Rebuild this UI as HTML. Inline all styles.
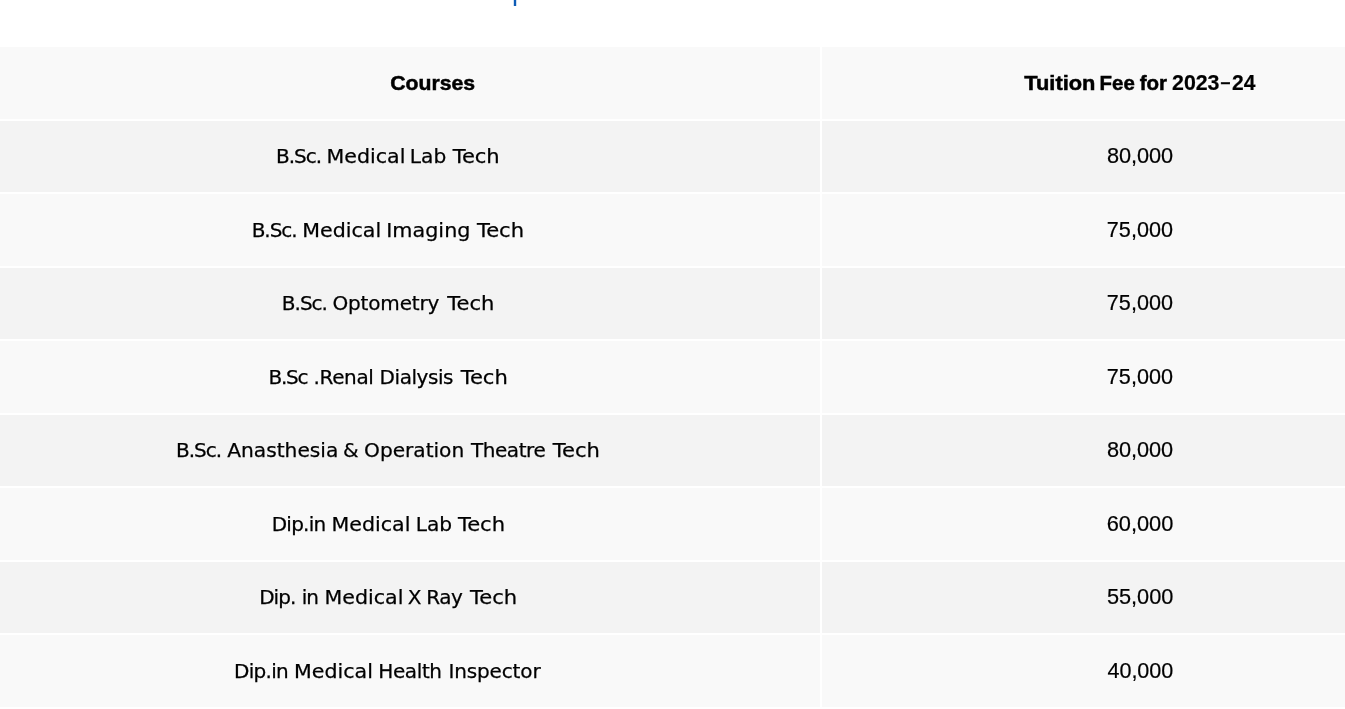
<!DOCTYPE html>
<html lang="en"><head><meta charset="utf-8"><title>Tuition Fee for 2023-24</title>
<style>
html,body{margin:0;padding:0;background:#fff;}
body{width:1345px;height:709px;overflow:hidden;position:relative;font-family:"Liberation Sans",sans-serif;color:#000;}
.tbl{position:absolute;left:0;top:0;width:1345px;height:709px;}
.row{position:absolute;left:0;width:1345px;}
.cell{position:absolute;top:0;height:100%;}
.c1{left:0;width:820px;}
.c2{left:822px;width:523px;}
.odd .cell{background:#f9f9f9;}
.even .cell{background:#f3f3f3;}
.cell span{position:absolute;display:block;white-space:nowrap;line-height:1;font-size:21px;transform-origin:0 0;}
.h span{font-weight:bold;-webkit-text-stroke:0.5px #000;}
.c1 span{font-family:"DejaVu Sans","Liberation Sans",sans-serif;font-size:20px;-webkit-text-stroke:0.25px #000;}
.h .c1 span{font-family:"Liberation Sans",sans-serif;font-size:21px;-webkit-text-stroke:0.5px #000;}
.cell span.n{font-size:21.5px;-webkit-text-stroke:0.2px #000;}
.h span.n{-webkit-text-stroke:0.2px #000;}
.h span.hy{font-weight:normal;-webkit-text-stroke:0.5px #000;}
.lnk{position:absolute;left:512px;top:-22px;font-size:27px;line-height:1;color:#0d5cb6;white-space:nowrap;}
</style></head><body>
<div class="lnk">p</div>
<div class="tbl" role="table">
<div class="row odd h" role="row" style="top:47px;height:72px">
<div class="cell c1" role="columnheader"><span style="left:390px;top:25px;letter-spacing:-0.008px;transform:translateX(0.19px) scaleX(1.0099)">Courses</span></div>
<div class="cell c2" role="columnheader"><span style="left:202px;top:25px;letter-spacing:-0.022px;transform:translateX(0.35px) scaleX(1.0398)">Tuition</span> <span style="left:277px;top:25px;letter-spacing:0.022px;transform:translateX(0.59px) scaleX(0.9721)">Fee</span> <span style="left:317px;top:25px;letter-spacing:-0.115px;transform:translateX(0.79px) scaleX(0.9780)">for</span> <span class="n" style="left:350px;top:26px;letter-spacing:-0.066px;transform:translateX(0.09px) scaleX(0.9930)">2023</span> <span class="hy" style="left:397px;top:23.5px;transform:translateX(0.74px) scaleX(1.6200)">-</span> <span class="n" style="left:410px;top:26px;letter-spacing:-0.081px;transform:translateX(0.07px) scaleX(0.9789)">24</span></div>
</div>
<div class="row even" role="row" style="top:121px;height:71px">
<div class="cell c1" role="cell"><span style="left:276.05px;top:25px;letter-spacing:-1.019px">B.Sc.</span> <span style="left:326px;top:25px;letter-spacing:0.007px;transform:translateX(0.50px) scaleX(1.0290)">Medical</span> <span style="left:409px;top:25px;letter-spacing:0.042px;transform:translateX(0.85px) scaleX(1.0075)">Lab</span> <span style="left:452px;top:25px;letter-spacing:-0.059px;transform:translateX(0.67px) scaleX(1.0540)">Tech</span></div>
<div class="cell c2" role="cell"><span class="n" style="left:284px;top:25px;letter-spacing:-0.036px;transform:translateX(0.92px) scaleX(1.0107)">80,000</span></div>
</div>
<div class="row odd" role="row" style="top:194px;height:72px">
<div class="cell c1" role="cell"><span style="left:251.65px;top:26px;letter-spacing:-1.019px">B.Sc.</span> <span style="left:302px;top:26px;letter-spacing:0.007px;transform:translateX(0.25px) scaleX(1.0290)">Medical</span> <span style="left:386px;top:26px;letter-spacing:0.019px;transform:translateX(0.16px) scaleX(1.0355)">Imaging</span> <span style="left:476px;top:26px;letter-spacing:-0.059px;transform:translateX(0.97px) scaleX(1.0540)">Tech</span></div>
<div class="cell c2" role="cell"><span class="n" style="left:284px;top:26px;letter-spacing:0.003px;transform:translateX(0.85px) scaleX(1.0049)">75,000</span></div>
</div>
<div class="row even" role="row" style="top:268px;height:71px">
<div class="cell c1" role="cell"><span style="left:281.85px;top:25px;letter-spacing:-1.019px">B.Sc.</span> <span style="left:332.39px;top:25px;letter-spacing:-0.145px">Optometry</span> <span style="left:447px;top:25px;letter-spacing:-0.059px;transform:translateX(0.27px) scaleX(1.0540)">Tech</span></div>
<div class="cell c2" role="cell"><span class="n" style="left:284px;top:25px;letter-spacing:0.003px;transform:translateX(0.85px) scaleX(1.0049)">75,000</span></div>
</div>
<div class="row odd" role="row" style="top:341px;height:72px">
<div class="cell c1" role="cell"><span style="left:268.43px;top:26px;letter-spacing:-1.261px">B.Sc</span> <span style="left:313.58px;top:26px;letter-spacing:-0.379px">.Renal</span> <span style="left:379.59px;top:26px;letter-spacing:-0.434px">Dialysis</span> <span style="left:460px;top:26px;letter-spacing:-0.059px;transform:translateX(0.72px) scaleX(1.0540)">Tech</span></div>
<div class="cell c2" role="cell"><span class="n" style="left:284px;top:26px;letter-spacing:0.003px;transform:translateX(0.85px) scaleX(1.0049)">75,000</span></div>
</div>
<div class="row even" role="row" style="top:415px;height:71px">
<div class="cell c1" role="cell"><span style="left:176.05px;top:25px;letter-spacing:-1.019px">B.Sc.</span> <span style="left:227px;top:25px;letter-spacing:-0.010px;transform:translateX(0.17px) scaleX(1.0108)">Anasthesia</span> <span style="left:343.08px;top:25px">&amp;</span> <span style="left:364px;top:25px;letter-spacing:-0.023px;transform:translateX(0.07px) scaleX(1.0077)">Operation</span> <span style="left:470.93px;top:25px;letter-spacing:-0.425px">Theatre</span> <span style="left:552px;top:25px;letter-spacing:-0.059px;transform:translateX(0.87px) scaleX(1.0540)">Tech</span></div>
<div class="cell c2" role="cell"><span class="n" style="left:284px;top:25px;letter-spacing:-0.036px;transform:translateX(0.92px) scaleX(1.0107)">80,000</span></div>
</div>
<div class="row odd" role="row" style="top:488px;height:72px">
<div class="cell c1" role="cell"><span style="left:271.64px;top:26px;letter-spacing:-0.721px">Dip.in</span> <span style="left:331px;top:26px;letter-spacing:0.007px;transform:translateX(0.55px) scaleX(1.0290)">Medical</span> <span style="left:415px;top:26px;letter-spacing:0.042px;transform:translateX(0.65px) scaleX(1.0075)">Lab</span> <span style="left:457px;top:26px;letter-spacing:-0.059px;transform:translateX(0.97px) scaleX(1.0540)">Tech</span></div>
<div class="cell c2" role="cell"><span class="n" style="left:284px;top:26px;letter-spacing:-0.048px;transform:translateX(0.79px) scaleX(1.0146)">60,000</span></div>
</div>
<div class="row even" role="row" style="top:562px;height:71px">
<div class="cell c1" role="cell"><span style="left:259.14px;top:25px;letter-spacing:-0.913px">Dip.</span> <span style="left:301.79px;top:25px;letter-spacing:-1.187px">in</span> <span style="left:324px;top:25px;letter-spacing:0.007px;transform:translateX(0.50px) scaleX(1.0290)">Medical</span> <span style="left:407.80px;top:25px">X</span> <span style="left:426.30px;top:25px;letter-spacing:-0.456px">Ray</span> <span style="left:470px;top:25px;letter-spacing:-0.059px;transform:translateX(0.07px) scaleX(1.0540)">Tech</span></div>
<div class="cell c2" role="cell"><span class="n" style="left:284px;top:25px;letter-spacing:-0.020px;transform:translateX(0.90px) scaleX(1.0115)">55,000</span></div>
</div>
<div class="row odd" role="row" style="top:635px;height:72px">
<div class="cell c1" role="cell"><span style="left:234.04px;top:26px;letter-spacing:-0.721px">Dip.in</span> <span style="left:294px;top:26px;letter-spacing:0.007px;transform:translateX(0.05px) scaleX(1.0290)">Medical</span> <span style="left:378.23px;top:26px;letter-spacing:-0.372px">Health</span> <span style="left:448.51px;top:26px;letter-spacing:-0.147px">Inspector</span></div>
<div class="cell c2" role="cell"><span class="n" style="left:285px;top:26px;letter-spacing:-0.050px;transform:translateX(0.50px) scaleX(1.0034)">40,000</span></div>
</div>
</div></body></html>
